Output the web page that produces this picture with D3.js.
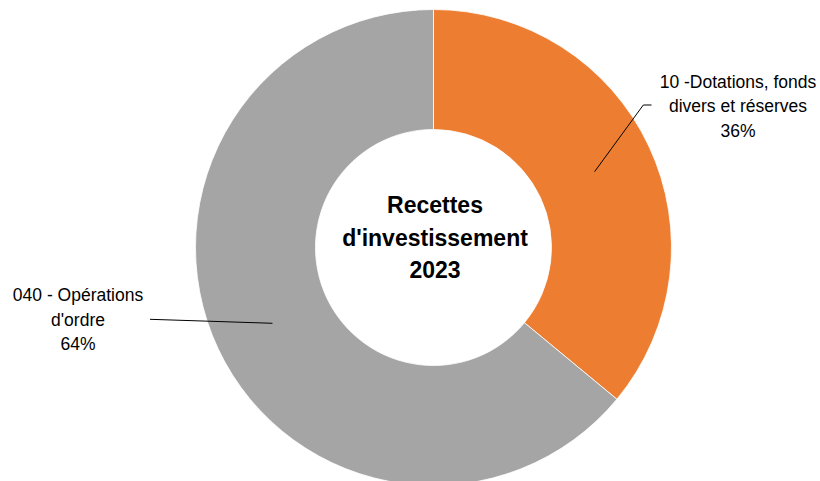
<!DOCTYPE html>
<html>
<head>
<meta charset="utf-8">
<script src="https://cdn.jsdelivr.net/npm/d3@7/dist/d3.min.js"></script>
<style>
  html, body { margin: 0; padding: 0; background: #fff; }
  svg { display: block; }
  text { font-family: "Liberation Sans", "DejaVu Sans", sans-serif; fill: #000; }
</style>
</head>
<body>
<svg id="chart" width="820" height="481"></svg>
<script>
// Budget categories and their share of investment receipts (%)
const categories = ["10 -Dotations, fonds divers et réserves", "040 - Opérations d'ordre"];
const labelLines = [["10 -Dotations, fonds", "divers et réserves"], ["040 - Opérations", "d'ordre"]];
const values = [36, 64];
const colors = ["#ED7D31", "#A5A5A5"];
const titleLines = ["Recettes", "d'investissement", "2023"];

const W = 820, H = 481;
const cx = 433.5, cy = 247.5;
const outerR = 238, innerR = 118;

const svg = d3.select("#chart");
const g = svg.append("g").attr("transform", `translate(${cx},${cy})`);

const pie = d3.pie().sort(null).value(d => d.value);
const arc = d3.arc().innerRadius(innerR).outerRadius(outerR);

const data = categories.map((c, i) => ({ name: c, value: values[i], color: colors[i], lines: labelLines[i] }));
const arcs = pie(data);

g.selectAll("path.slice")
  .data(arcs)
  .enter().append("path")
  .attr("class", "slice")
  .attr("d", arc)
  .attr("fill", d => d.data.color)
  .attr("stroke", "#fff")
  .attr("stroke-width", 0.8);

// Label placement (relative to chart centre) and leader-line elbows
const labelLayout = [
  { x: 304.5, y: -166, anchor: "middle", elbow: [[209.8, -142.5], [218, -142.5]] },
  { x: -355.5, y: 47.5, anchor: "middle", elbow: [[-283.5, 71.8]] }
];

const fmtPct = v => Math.round(v / d3.sum(values) * 100) + "%";

arcs.forEach((a, i) => {
  const [px, py] = arc.centroid(a);
  const L = labelLayout[i];
  const pts = [[px, py]].concat(L.elbow);
  g.append("path")
    .attr("d", d3.line()(pts))
    .attr("fill", "none")
    .attr("stroke", "#000")
    .attr("stroke-width", 1);

  const t = g.append("text")
    .attr("text-anchor", L.anchor)
    .attr("font-size", 17.5);
  const lines = a.data.lines.concat([fmtPct(a.data.value)]);
  lines.forEach((ln, j) => {
    t.append("tspan")
      .attr("x", L.x)
      .attr("y", L.y + j * 24.5)
      .attr("dy", "0.35em")
      .text(ln);
  });
});

// Centre title
const title = g.append("text")
  .attr("text-anchor", "middle")
  .attr("font-size", 23)
  .attr("font-weight", "bold");
titleLines.forEach((ln, j) => {
  title.append("tspan")
    .attr("x", 1.5)
    .attr("y", -42.5 + j * 32.5)
    .attr("dy", "0.35em")
    .text(ln);
});
</script>
</body>
</html>
